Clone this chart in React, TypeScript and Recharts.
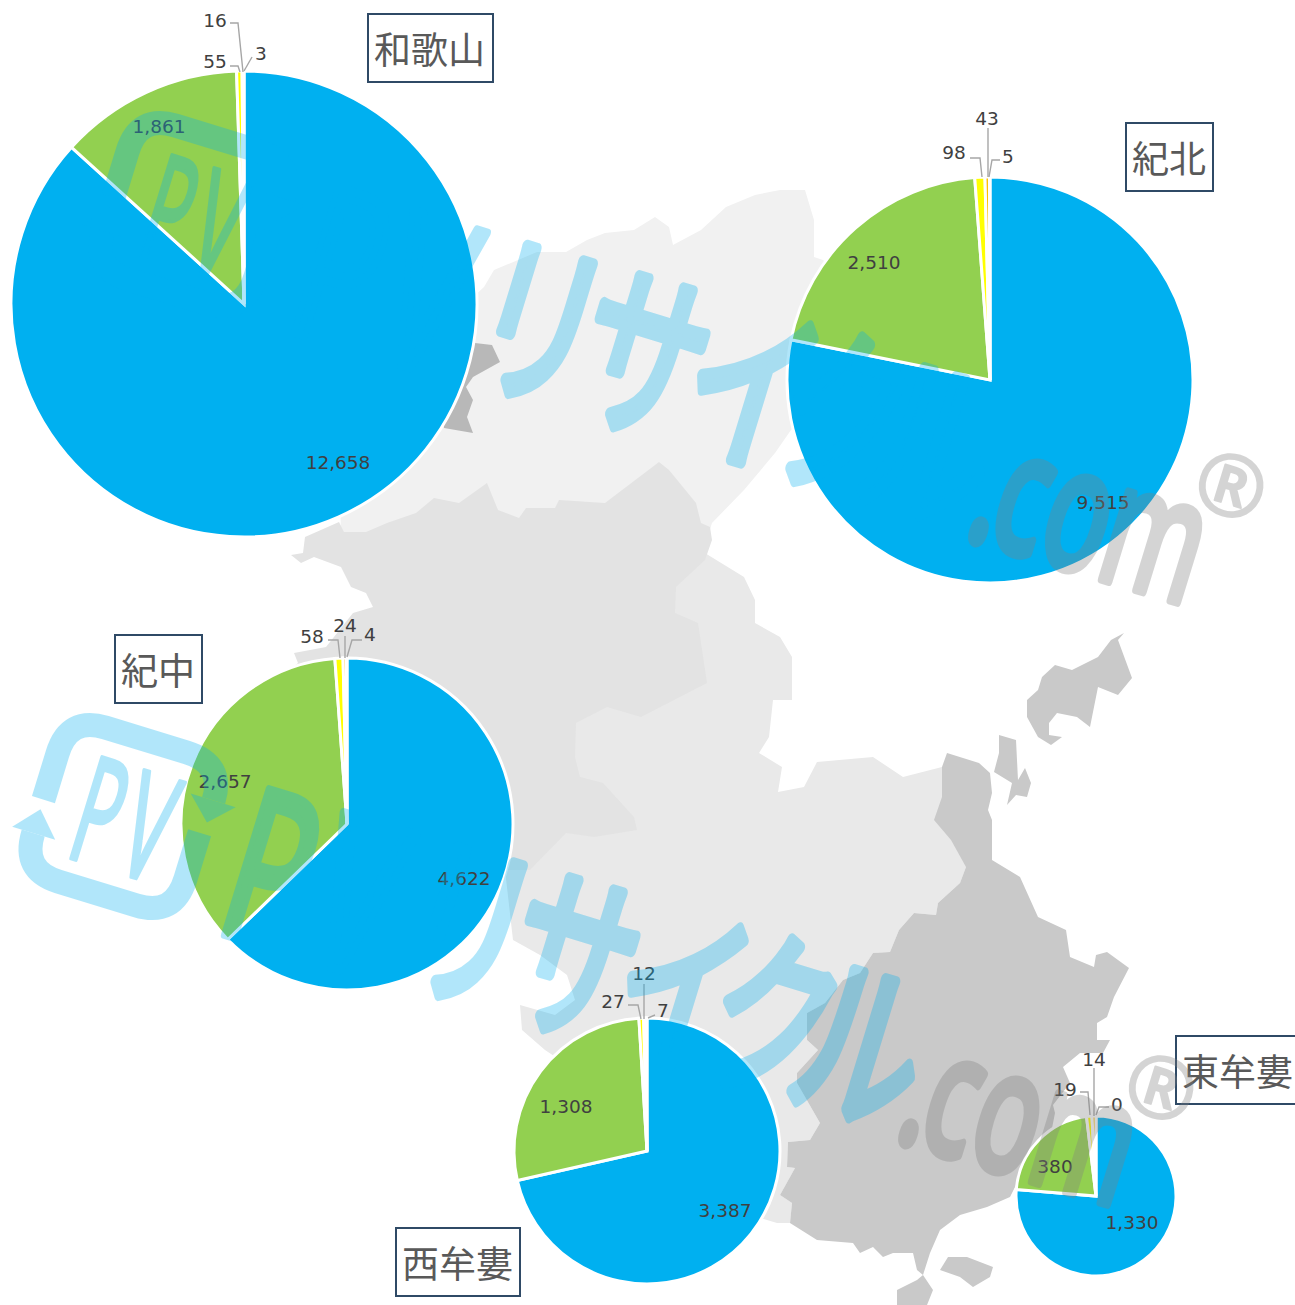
import React from 'react';
import { PieChart, Pie, Cell } from 'recharts';

// ---- data ----
const categories = ['区分1', '区分2', '区分3', '区分4', '区分5'];
const regionNames = ['和歌山', '紀北', '紀中', '西牟婁', '東牟婁'];
const wakayama = [12658, 1861, 55, 16, 3];
const kihoku = [9515, 2510, 98, 43, 5];
const kichu = [4622, 2657, 58, 24, 4];
const nishimuro = [3387, 1308, 27, 12, 7];
const higashimuro = [1330, 380, 19, 14, 0];
const seriesValues = [wakayama, kihoku, kichu, nishimuro, higashimuro];
const sliceColors = ['#00B0F0', '#92D050', '#FFFF00', '#FFC000', '#ED7D31'];

// ---- layout ----
const W = 1295;
const H = 1305;
const pieGeometry = [
  { cx: 244, cy: 304, r: 233 },
  { cx: 990, cy: 380, r: 203 },
  { cx: 347, cy: 824, r: 166 },
  { cx: 647, cy: 1151, r: 133 },
  { cx: 1096, cy: 1196, r: 80 },
];
const boxes = [
  { x: 367, y: 13, w: 127, h: 70 },
  { x: 1125, y: 122, w: 89, h: 70 },
  { x: 114, y: 634, w: 89, h: 70 },
  { x: 395, y: 1227, w: 126, h: 70 },
  { x: 1175, y: 1035, w: 130, h: 70 },
];
type Lab = { t: [number, number]; line?: [number, number][] };
// page positions of labels and their leader lines, by pie then slice
const labelLayout: Lab[][] = [
  [
    { t: [338, 462] },
    { t: [159, 126] },
    { t: [215, 61], line: [[230, 66], [238, 66], [240, 72]] },
    { t: [215, 20], line: [[230, 23], [238, 23], [243, 72]] },
    { t: [261, 53], line: [[252, 57], [244, 71]] },
  ],
  [
    { t: [1103, 502] },
    { t: [874, 262] },
    { t: [954, 152], line: [[970, 158], [980, 158], [982, 177]] },
    { t: [987, 118], line: [[988, 128], [988, 177]] },
    { t: [1008, 156], line: [[1000, 160], [992, 160], [989, 177]] },
  ],
  [
    { t: [464, 878] },
    { t: [225, 781] },
    { t: [312, 636], line: [[328, 640], [338, 640], [340, 658]] },
    { t: [345, 625], line: [[345, 636], [345, 658]] },
    { t: [370, 634], line: [[362, 640], [352, 640], [347, 657]] },
  ],
  [
    { t: [725, 1210] },
    { t: [566, 1106] },
    { t: [613, 1001], line: [[628, 1005], [638, 1005], [641, 1019]] },
    { t: [644, 973], line: [[644, 984], [644, 1019]] },
    { t: [663, 1010], line: [[655, 1015], [648, 1018]] },
  ],
  [
    { t: [1132, 1222] },
    { t: [1055, 1166] },
    { t: [1065, 1089], line: [[1080, 1092], [1088, 1092], [1090, 1115]] },
    { t: [1094, 1059], line: [[1094, 1068], [1094, 1116]] },
    { t: [1117, 1104], line: [[1109, 1107], [1099, 1107], [1096, 1115]] },
  ],
];

// ---- background map outlines ----
const mapNorth = '484,287 494,270 537,252 566,252 587,240 605,233 634,230 655,217 669,227 673,245 701,230 726,207 755,195 780,190 805,190 814,220 814,257 823,260 834,270 840,400 791,430 775,453 744,490 712,523 700,560 387,560 341,532 340,500 470,300';
const mapEast = '700,550 744,577 755,600 755,623 780,637 792,657 792,700 773,700 769,737 759,753 782,767 778,792 804,787 817,762 873,757 903,777 942,767 960,800 966,867 960,883 938,903 936,915 914,913 899,930 890,952 873,953 860,973 843,980 825,1003 807,1013 807,1040 818,1050 797,1073 797,1083 820,1123 810,1140 788,1142 787,1167 795,1168 780,1195 792,1203 790,1223 777,1223 700,1200 560,1060 545,1050 522,1030 520,1005 555,1015 575,1000 567,975 540,955 513,940 505,870 560,700 640,640';
const mapMiddle = '339,522 344,532 366,532 387,523 416,513 434,498 459,503 487,483 498,510 519,518 526,508 555,508 559,500 605,503 659,462 669,470 696,503 701,523 710,527 712,540 705,560 676,587 675,613 698,623 707,683 641,717 607,707 576,723 575,757 580,777 603,783 634,817 637,830 594,837 566,833 530,870 480,870 347,824 290,670 298,663 294,653 326,647 353,613 373,607 366,593 351,587 341,567 314,557 301,563 291,555 303,553 305,537';
const mapSouth = '947,753 979,763 990,773 992,793 988,810 992,820 992,860 1020,877 1038,917 1066,930 1070,957 1094,967 1096,955 1107,952 1129,968 1114,997 1107,1017 1097,1023 1097,1040 1110,1040 1103,1053 1080,1053 1063,1067 1070,1083 1053,1105 1055,1113 1040,1190 1017,1183 1010,1197 987,1207 960,1215 940,1230 930,1253 923,1275 917,1270 913,1253 893,1253 883,1257 873,1247 860,1253 853,1243 817,1240 790,1223 792,1203 780,1195 795,1168 787,1167 788,1142 810,1140 820,1123 797,1083 797,1073 818,1050 807,1040 807,1013 825,1003 843,980 860,973 873,953 890,952 899,930 914,913 936,915 938,903 960,883 966,867 951,840 934,820 942,797 942,767';
const mapIslands = [
  '923,1275 933,1290 927,1305 897,1305 897,1290 917,1280',
  '940,1270 948,1257 967,1257 993,1267 990,1277 973,1287 960,1277',
  '1124,633 1111,640 1098,657 1072,670 1055,665 1042,677 1038,690 1027,700 1027,717 1038,737 1051,745 1062,737 1049,735 1049,723 1057,713 1077,717 1090,727 1098,687 1118,695 1132,678 1118,640',
  '999,735 1016,740 1018,780 1025,768 1031,783 1027,797 1016,795 1007,805 1012,783 994,772 999,753',
];
const mapEnclave = '475,343 492,345 500,362 473,377 466,387 473,400 467,417 473,433 444,428 440,400';

const LABEL_FONT = '"DejaVu Sans", Verdana, sans-serif';
const CJK_FONT = '"Noto Sans CJK JP", sans-serif';
const LATIN_FONT = '"Noto Sans", sans-serif';

const makeLabel = (pieIndex: number) => (props: any) => {
  const layout = labelLayout[pieIndex][props.index];
  if (!layout) return null;
  return (
    <g>
      {layout.line && (
        <polyline
          points={layout.line.map((p) => p.join(',')).join(' ')}
          fill="none"
          stroke="#a6a6a6"
          strokeWidth={1.4}
        />
      )}
      <text
        x={layout.t[0]}
        y={layout.t[1]}
        textAnchor="middle"
        dominantBaseline="central"
        fontFamily={LABEL_FONT}
        fontSize={18.5}
        fill="#404040"
      >
        {Number(props.value).toLocaleString('en-US')}
      </text>
    </g>
  );
};

const kana = [
  { c: 'リ', u: 233 },
  { c: 'サ', u: 343 },
  { c: 'イ', u: 455 },
  { c: 'ク', u: 552 },
  { c: 'ル', u: 643 },
];
const comGlyphs = [
  { c: '.', u: 714 },
  { c: 'c', u: 748 },
  { c: 'o', u: 806 },
  { c: 'm', u: 885 },
];

function Glyph({ c, u, v, size, sx, font, sw }: any) {
  return (
    <text
      transform={`translate(${u},${v}) scale(${sx},1)`}
      textAnchor="middle"
      fontFamily={font}
      fontSize={size}
      stroke="currentColor"
      strokeWidth={sw}
      strokeLinejoin="round"
      fill="currentColor"
    >
      {c}
    </text>
  );
}

function Watermark({ tx, ty }: { tx: number; ty: number }) {
  return (
    <g transform={`translate(${293 + tx},${332 + ty}) rotate(17)`}>
      <g style={{ color: '#00B0F0' }} opacity={0.3}>
        {/* logo */}
        <g transform="translate(-133,-84)">
          <path
            d="M -78,8 L -78,-40 Q -78,-79 -40,-79 L 45,-79 Q 85,-79 85,-41"
            fill="none"
            stroke="currentColor"
            strokeWidth={24}
          />
          <polygon points="61,-41 108,-41 85,-18" fill="currentColor" />
          <path
            d="M 81,-6 L 81,42 Q 81,82 42,82 L -40,82 Q -78,82 -78,43"
            fill="none"
            stroke="currentColor"
            strokeWidth={24}
          />
          <polygon points="-100,43 -55,43 -78,18" fill="currentColor" />
          <Glyph c="P" u={-20} v={56} size={148} sx={0.5} font={LATIN_FONT} sw={4} />
          <Glyph c="V" u={31} v={56} size={148} sx={0.5} font={LATIN_FONT} sw={4} />
        </g>
        {/* big PV + kana */}
        <Glyph c="P" u={28} v={0} size={212} sx={0.62} font={LATIN_FONT} sw={9} />
        <Glyph c="V" u={118} v={0} size={212} sx={0.62} font={LATIN_FONT} sw={9} />
        {kana.map((k) => (
          <Glyph key={k.c} c={k.c} u={k.u} v={-12} size={185} sx={0.68} font={CJK_FONT} sw={12} />
        ))}
      </g>
      <g style={{ color: '#808080' }} opacity={0.33}>
        {comGlyphs.map((k) => (
          <Glyph key={k.c} c={k.c} u={k.u} v={0} size={170} sx={0.62} font={LATIN_FONT} sw={9} />
        ))}
        <Glyph c="®" u={942} v={-97} size={85} sx={1} font={LATIN_FONT} sw={2} />
      </g>
    </g>
  );
}

const layer: React.CSSProperties = { position: 'absolute', left: 0, top: 0 };

export default function App() {
  return (
    <div style={{ position: 'absolute', left: 0, top: 0, width: W, height: H, overflow: 'hidden', background: '#fff' }}>
      <svg width={W} height={H} style={layer}>
        <polygon points={mapNorth} fill="#f1f1f1" />
        <polygon points={mapEnclave} fill="#b8b8b8" />
        <polygon points={mapEast} fill="#e9e9e9" />
        <polygon points={mapMiddle} fill="#e3e3e3" />
        <polygon points={mapSouth} fill="#c9c9c9" />
        {mapIslands.map((p) => (
          <polygon key={p} points={p} fill="#c9c9c9" />
        ))}
      </svg>
      <div style={layer}>
        <PieChart width={W} height={H} margin={{ top: 0, right: 0, bottom: 0, left: 0 }}>
          {seriesValues.map((values, i) => (
            <Pie
              key={regionNames[i]}
              data={values.map((value, j) => ({ name: categories[j], value }))}
              dataKey="value"
              nameKey="name"
              cx={pieGeometry[i].cx}
              cy={pieGeometry[i].cy}
              outerRadius={pieGeometry[i].r}
              innerRadius={0}
              startAngle={90}
              endAngle={-270}
              stroke="#ffffff"
              strokeWidth={3}
              isAnimationActive={false}
              labelLine={false}
              label={makeLabel(i)}
            >
              {values.map((_, j) => (
                <Cell key={j} fill={sliceColors[j]} stroke="#ffffff" strokeWidth={3} />
              ))}
            </Pie>
          ))}
        </PieChart>
      </div>
      {regionNames.map((name, i) => (
        <div
          key={name}
          style={{
            position: 'absolute',
            left: boxes[i].x,
            top: boxes[i].y,
            width: boxes[i].w,
            height: boxes[i].h,
            boxSizing: 'border-box',
            border: '2px solid #2f4a66',
            background: '#fff',
            color: '#595959',
            fontFamily: CJK_FONT,
            fontSize: 37,
            lineHeight: '66px',
            paddingLeft: 5,
            whiteSpace: 'nowrap',
          }}
        >
          {name}
        </div>
      ))}
      <svg width={W} height={H} style={{ ...layer, pointerEvents: 'none' }}>
        <Watermark tx={0} ty={0} />
        <Watermark tx={-70} ty={602} />
      </svg>
    </div>
  );
}
